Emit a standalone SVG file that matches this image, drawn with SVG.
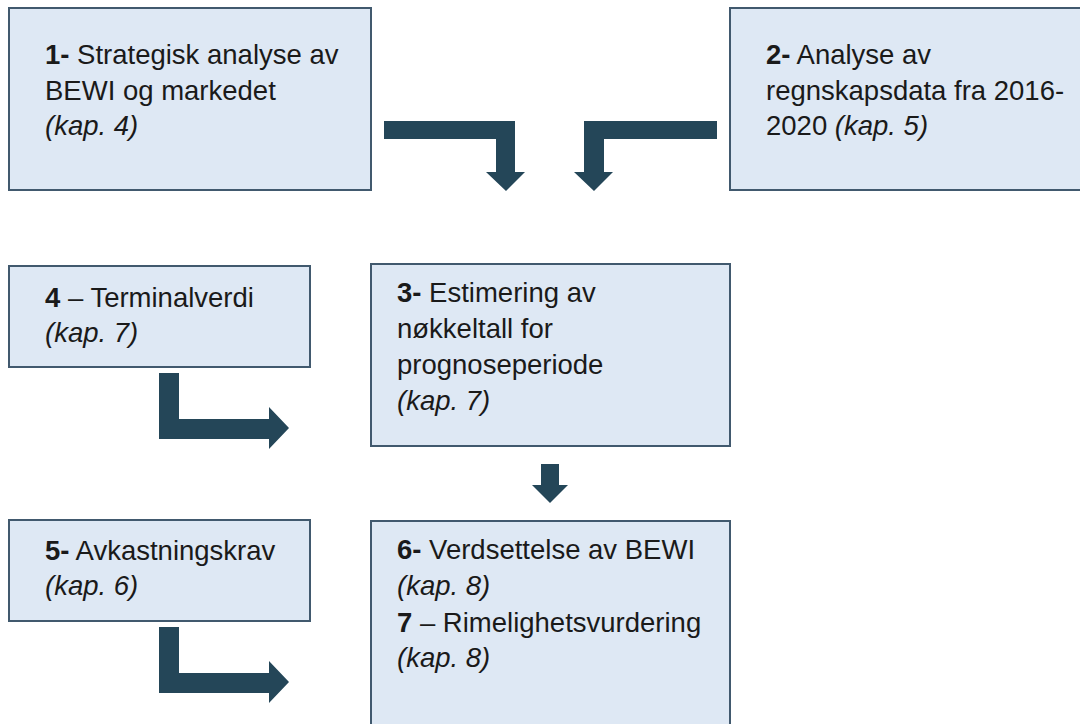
<svg xmlns="http://www.w3.org/2000/svg" width="1080" height="724" viewBox="0 0 1080 724">
<style>
.box{fill:#dee8f4;stroke:#41596e;stroke-width:2}
.t{font-family:"Liberation Sans",Arial,sans-serif;font-size:27.5px;fill:#1a1a1a}
.b{font-weight:bold}
.i{font-style:italic}
.arr{fill:#244658}
</style>
<rect width="1080" height="724" fill="#ffffff"/>
<g id="node1">
<rect class="box" x="9" y="8" width="362" height="182"/>
<text class="t" x="45" y="64"><tspan class="b">1-</tspan> Strategisk analyse av</text>
<text class="t" x="45" y="100">BEWI og markedet</text>
<text class="t i" x="45" y="135">(kap. 4)</text>
</g>
<g id="node2">
<rect class="box" x="730" y="8" width="360" height="182"/>
<text class="t" x="766" y="64"><tspan class="b">2-</tspan> Analyse av</text>
<text class="t" x="766" y="100">regnskapsdata fra 2016-</text>
<text class="t" x="766" y="135">2020 <tspan class="i">(kap. 5)</tspan></text>
</g>
<g id="node4">
<rect class="box" x="9" y="266" width="301" height="101"/>
<text class="t" x="45" y="307"><tspan class="b">4</tspan> – Terminalverdi</text>
<text class="t i" x="45" y="342">(kap. 7)</text>
</g>
<g id="node3">
<rect class="box" x="371" y="264" width="359" height="182"/>
<text class="t" x="397" y="302"><tspan class="b">3-</tspan> Estimering av</text>
<text class="t" x="397" y="338">nøkkeltall for</text>
<text class="t" x="397" y="374">prognoseperiode</text>
<text class="t i" x="397" y="410">(kap. 7)</text>
</g>
<g id="node5">
<rect class="box" x="9" y="520" width="301" height="101"/>
<text class="t" x="45" y="560"><tspan class="b">5-</tspan> Avkastningskrav</text>
<text class="t i" x="45" y="595">(kap. 6)</text>
</g>
<g id="node6">
<rect class="box" x="371" y="521" width="359" height="215"/>
<text class="t" x="397" y="559"><tspan class="b">6-</tspan> Verdsettelse av BEWI</text>
<text class="t i" x="397" y="595">(kap. 8)</text>
<text class="t" x="397" y="632"><tspan class="b">7</tspan> – Rimelighetsvurdering</text>
<text class="t i" x="397" y="667">(kap. 8)</text>
</g>
<g id="connectors">
<path class="arr" d="M384 121 H515 V172 H525 L506 191 L486 172 H496 V139 H384 Z"/>
<path class="arr" d="M717 121 H584 V172 H574 L594 191 L613 172 H604 V139 H717 Z"/>
<path class="arr" d="M159 373 H179 V419 H269 V407 L289 428 L269 449 V439 H159 Z"/>
<path class="arr" d="M159 627 H179 V673 H269 V661 L289 682 L269 703 V693 H159 Z"/>
<path class="arr" d="M541 464 H559 V485 H568 L550 503 L532 485 H541 Z"/>
</g>
</svg>
